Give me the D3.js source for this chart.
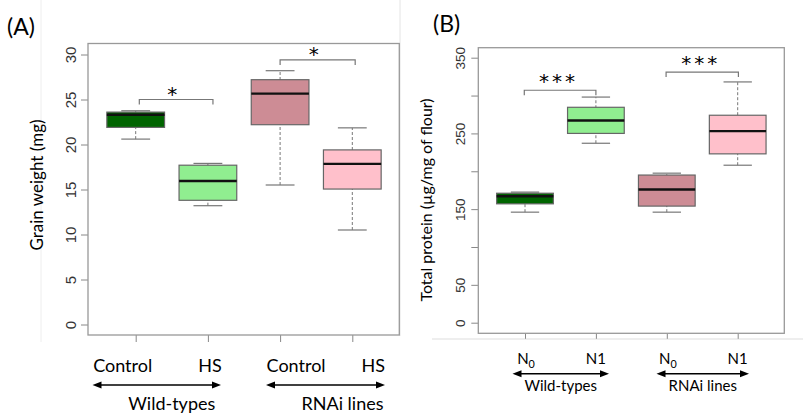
<!DOCTYPE html>
<html>
<head>
<meta charset="utf-8">
<script src="https://cdn.jsdelivr.net/npm/d3@7"></script>
<style>
  body { margin: 0; background: #fff; }
  svg { display: block; }
  .lab { font-family: Lato, "Open Sans", sans-serif; fill: #000; }
  .star { font-family: "DejaVu Sans", sans-serif; fill: #000; }
  .tick-lab { font-family: "Liberation Sans", Arial, sans-serif; fill: #333; }
</style>
</head>
<body>
<div id="chart"></div>
<script>
// ---- data ----
// panel A: grain weight (mg), [whisker low, Q1, median, Q3, whisker high]
const grainGroups = ['WT Control', 'WT HS', 'RNAi Control', 'RNAi HS'];
const grainStats = [
  [20.6, 21.9, 23.3, 23.6, 23.75],
  [13.2, 13.8, 15.95, 17.7, 17.9],
  [15.5, 22.2, 25.65, 27.2, 28.2],
  [10.5, 15.05, 17.85, 19.4, 21.85]
];
const grainTicks = [0, 5, 10, 15, 20, 25, 30];
const grainXLabels = ['Control', 'HS', 'Control', 'HS'];

// panel B: total protein (µg/mg of flour)
const proteinGroups = ['WT N0', 'WT N1', 'RNAi N0', 'RNAi N1'];
const proteinStats = [
  [146, 157, 167, 171, 172.5],
  [237, 250, 267, 284.5, 298],
  [146, 154, 176, 195, 197.5],
  [208, 223, 253, 274, 318]
];
const proteinTicks = [0, 50, 100, 150, 200, 250, 300, 350];
const proteinTickLabels = ['0', '50', '', '150', '', '250', '', '350'];
const proteinXLabels = [['N', '0'], ['N1', null], ['N', '0'], ['N1', null]];

const groupNames = ['Wild-types', 'RNAi lines'];
const boxFills = ['#006400', '#90EE90', '#CD8C95', '#FFC0CB'];

const W = 803, H = 415;
const svg = d3.select('#chart').append('svg').attr('width', W).attr('height', H);

// faint edges of the original image panels
svg.append('line').attr('x1', 41).attr('x2', 41).attr('y1', 0).attr('y2', 342)
  .attr('stroke', '#eee').attr('stroke-width', 1);
svg.append('line').attr('x1', 400).attr('x2', 400).attr('y1', 0).attr('y2', 336)
  .attr('stroke', '#e4e4e4').attr('stroke-width', 1);
svg.append('line').attr('x1', 432).attr('x2', W).attr('y1', 339).attr('y2', 339)
  .attr('stroke', '#ddd').attr('stroke-width', 1);

function arrowHead(g, x, y, dir) {
  g.append('path')
    .attr('d', `M${x},${y} L${x - dir * 9},${y - 3.5} L${x - dir * 9},${y + 3.5} Z`)
    .attr('fill', '#000');
}

function drawPanel(cfg) {
  const g = svg.append('g');
  const x = d3.scaleLinear().domain([1, 4]).range(cfg.xRange);
  const y = d3.scaleLinear().domain(cfg.yDomain).range(cfg.yRange);
  const bw = cfg.boxW;

  // y axis, labels parallel to axis (R style)
  const yAxis = d3.axisLeft(y).tickValues(cfg.yTicks).tickSize(7).tickPadding(5)
    .tickFormat((d, i) => cfg.yTickLabels[i]);
  const yg = g.append('g').attr('transform', `translate(${cfg.box[0]},0)`).call(yAxis);
  yg.select('.domain').remove();
  yg.selectAll('.tick line').attr('stroke', '#888');
  yg.selectAll('.tick text')
    .attr('class', 'tick-lab')
    .attr('font-size', cfg.tickFont)
    .attr('x', null).attr('dy', null)
    .attr('text-anchor', 'middle')
    .attr('transform', `translate(${-cfg.tickOffset},0) rotate(-90)`);

  // x axis ticks only
  const xAxis = d3.axisBottom(x).tickValues([1, 2, 3, 4]).tickSize(cfg.xTickLen).tickFormat('');
  const xg = g.append('g').attr('transform', `translate(0,${cfg.box[3]})`).call(xAxis);
  xg.select('.domain').remove();
  xg.selectAll('.tick line').attr('stroke', '#888');

  // plot frame
  g.append('rect')
    .attr('x', cfg.box[0]).attr('y', cfg.box[1])
    .attr('width', cfg.box[2] - cfg.box[0]).attr('height', cfg.box[3] - cfg.box[1])
    .attr('fill', 'none').attr('stroke', '#999').attr('stroke-width', 1.3);

  // boxes: dashed whisker, caps, box, median
  const boxes = g.selectAll('.bx').data(cfg.stats).join('g').attr('class', 'bx');
  boxes.each(function (d, i) {
    const b = d3.select(this);
    const cx = x(i + 1);
    b.append('line')
      .attr('x1', cx).attr('x2', cx)
      .attr('y1', y(d[0])).attr('y2', y(d[4]))
      .attr('stroke', '#777').attr('stroke-dasharray', '3,2');
    b.selectAll('.cap').data([d[0], d[4]]).join('line')
      .attr('class', 'cap')
      .attr('x1', cx - bw / 4).attr('x2', cx + bw / 4)
      .attr('y1', v => y(v)).attr('y2', v => y(v))
      .attr('stroke', '#777').attr('stroke-width', 1.2);
    b.append('rect')
      .attr('x', cx - bw / 2).attr('width', bw)
      .attr('y', y(d[3])).attr('height', y(d[1]) - y(d[3]))
      .attr('fill', boxFills[i]).attr('stroke', '#666').attr('stroke-width', 1.2);
    b.append('line')
      .attr('x1', cx - bw / 2).attr('x2', cx + bw / 2)
      .attr('y1', y(d[2])).attr('y2', y(d[2]))
      .attr('stroke', '#111').attr('stroke-width', 2.4);
  });

  // significance brackets
  cfg.brackets.forEach(br => {
    const x1 = x(br.from), x2 = x(br.to), yy = y(br.at);
    g.append('path')
      .attr('d', `M${x1},${yy + 5}V${yy}H${x2}V${yy + 5}`)
      .attr('fill', 'none').attr('stroke', '#777').attr('stroke-width', 1.2);
    g.append('text').attr('class', 'star')
      .attr('x', (x1 + x2) / 2 + cfg.starSpacing / 2 + cfg.starShift).attr('y', yy - cfg.starGap)
      .attr('text-anchor', 'middle')
      .attr('font-size', cfg.starFont)
      .attr('letter-spacing', cfg.starSpacing)
      .text(br.label);
  });

  // category labels
  cfg.xLabels.forEach((lab, i) => {
    const t = g.append('text').attr('class', 'lab')
      .attr('x', x(i + 1) + cfg.xLabShift[i]).attr('y', cfg.xLabY)
      .attr('text-anchor', 'middle').attr('font-size', cfg.xLabFont);
    if (Array.isArray(lab)) {
      t.append('tspan').text(lab[0]);
      if (lab[1]) t.append('tspan').attr('dy', 4).attr('font-size', cfg.xLabFont * 0.72).text(lab[1]);
    } else {
      t.text(lab);
    }
  });

  // group arrows and names
  groupNames.forEach((name, k) => {
    const [a, b] = cfg.arrows[k];
    g.append('line').attr('x1', a + 6).attr('x2', b - 6)
      .attr('y1', cfg.arrowY).attr('y2', cfg.arrowY)
      .attr('stroke', '#000').attr('stroke-width', 1.4);
    arrowHead(g, a, cfg.arrowY, -1);
    arrowHead(g, b, cfg.arrowY, 1);
    g.append('text').attr('class', 'lab')
      .attr('x', (a + b) / 2 + cfg.groupShift[k]).attr('y', cfg.groupY)
      .attr('text-anchor', 'middle').attr('font-size', cfg.groupFont)
      .text(name);
  });

  // y title
  g.append('text').attr('class', 'lab')
    .attr('transform', `translate(${cfg.yTitlePos[0]},${cfg.yTitlePos[1]}) rotate(-90)`)
    .attr('text-anchor', 'middle').attr('font-size', cfg.yTitleFont)
    .text(cfg.yTitle);

  // panel letter
  g.append('text').attr('class', 'lab')
    .attr('x', cfg.letterPos[0]).attr('y', cfg.letterPos[1])
    .attr('font-size', 23).text(cfg.letter);
}

drawPanel({
  stats: grainStats,
  xRange: [135.7, 352.3], yDomain: [0, 30], yRange: [324.5, 54.5],
  box: [88, 43.5, 399.3, 335], boxW: 57.7,
  yTicks: grainTicks, yTickLabels: grainTicks.map(String),
  tickFont: 15, tickOffset: 12.5, xTickLen: 7,
  brackets: [
    {from: 1.05, to: 2.07, at: 25, label: '*'},
    {from: 3.0, to: 4.04, at: 29.4, label: '*'}
  ],
  starFont: 20, starGap: -1, starSpacing: 0, starShift: -4,
  xLabels: grainXLabels, xLabShift: [-13, 2, 16, 21], xLabY: 372, xLabFont: 18,
  arrows: [[92.5, 221], [266, 385]], arrowY: 385,
  groupY: 410, groupFont: 18, groupShift: [15, 17],
  yTitle: 'Grain weight (mg)', yTitlePos: [43, 185], yTitleFont: 17,
  letter: '(A)', letterPos: [7, 35]
});

drawPanel({
  stats: proteinStats,
  xRange: [525, 737.7], yDomain: [0, 350], yRange: [322.7, 57.7],
  box: [478.3, 47.7, 784.3, 333.3], boxW: 56.7,
  yTicks: proteinTicks, yTickLabels: proteinTickLabels,
  tickFont: 13.5, tickOffset: 13.5, xTickLen: 5.5,
  brackets: [
    {from: 0.99, to: 2.0, at: 307, label: '***'},
    {from: 2.99, to: 4.01, at: 331, label: '***'}
  ],
  starFont: 20, starGap: 2, starSpacing: 3, starShift: -3,
  xLabels: proteinXLabels, xLabShift: [1, 0, 1, 0], xLabY: 364, xLabFont: 15,
  arrows: [[512.5, 609], [656.5, 749]], arrowY: 373.7,
  groupY: 391, groupFont: 15, groupShift: [0, 0],
  yTitle: 'Total protein (µg/mg of flour)', yTitlePos: [432, 200], yTitleFont: 16,
  letter: '(B)', letterPos: [433, 32]
});
</script>
</body>
</html>
